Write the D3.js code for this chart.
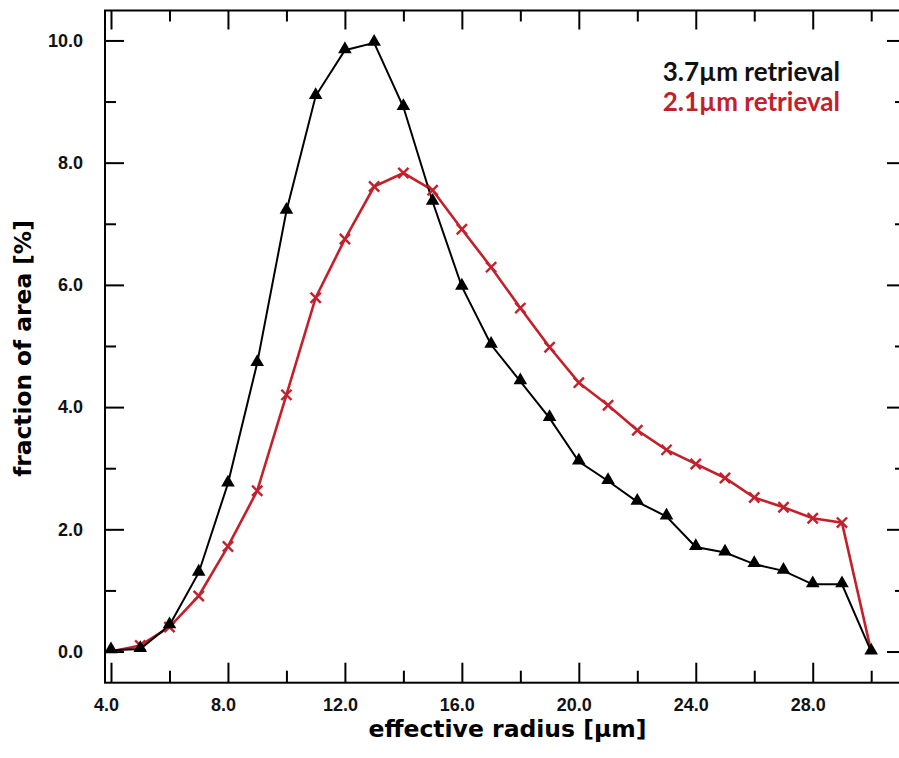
<!DOCTYPE html>
<html>
<head>
<meta charset="utf-8">
<script src="https://cdn.jsdelivr.net/npm/d3@7/dist/d3.min.js"></script>
<style>
  body { margin: 0; background: #fff; }
  svg { display: block; }
</style>
</head>
<body>
<svg id="chart" width="899" height="758"></svg>
<script>
// effective radius [um]
var radius = [4, 5, 6, 7, 8, 9, 10, 11, 12, 13, 14, 15, 16, 17, 18, 19, 20, 21, 22, 23, 24, 25, 26, 27, 28, 29, 30];
// 3.7um retrieval
var ret37 = [0.02, 0.04, 0.43, 1.29, 2.75, 4.72, 7.21, 9.09, 9.84, 9.96, 8.91, 7.36, 5.97, 5.02, 4.42, 3.82, 3.11, 2.79, 2.45, 2.21, 1.71, 1.62, 1.43, 1.32, 1.10, 1.10, 0.0];
// 2.1um retrieval
var ret21 = [0.0, 0.1, 0.4, 0.91, 1.72, 2.63, 4.2, 5.79, 6.75, 7.61, 7.83, 7.55, 6.91, 6.29, 5.62, 4.98, 4.40, 4.03, 3.62, 3.30, 3.07, 2.84, 2.52, 2.36, 2.18, 2.11, 0.0];

var xTicks = [4, 6, 8, 10, 12, 14, 16, 18, 20, 22, 24, 26, 28, 30];
var yTicks = [0, 1, 2, 3, 4, 5, 6, 7, 8, 9, 10];

var red = '#c4202b';

var svg = d3.select('#chart');
var mLeft = 105, mTop = 10.5, mRight = 906, mBottom = 682.7;

var x = d3.scaleLinear().domain([3.795, 31.19]).range([mLeft, mRight]);
var y = d3.scaleLinear().domain([-0.51, 10.49]).range([mBottom, mTop]);

var isMajorX = function (d) { return d % 4 === 0; };
var isMajorY = function (d) { return d % 2 === 0; };
var fmt = d3.format('.1f');

function styleAxis(g) {
    g.select('.domain').remove();
    g.selectAll('.tick line').attr('stroke', '#000').attr('stroke-width', 2);
    g.selectAll('.tick text')
        .style('font-family', '"Liberation Sans", Arial, sans-serif')
        .style('font-weight', 'bold')
        .style('font-size', '18px')
        .attr('fill', '#111');
}

// bottom + top axes
var gb = svg.append('g').attr('transform', 'translate(0,' + mBottom + ')');
gb.call(d3.axisBottom(x).tickValues(xTicks).tickSize(-20).tickSizeOuter(0).tickPadding(16)
    .tickFormat(function (d) { return isMajorX(d) && d < 30 ? fmt(d) : ''; }));
styleAxis(gb);
gb.selectAll('.tick line').attr('y2', function (d) { return isMajorX(d) ? -20 : -12; });
gb.selectAll('.tick text').attr('dx', -5);

var gt = svg.append('g').attr('transform', 'translate(0,' + mTop + ')');
gt.call(d3.axisTop(x).tickValues(xTicks).tickSizeOuter(0).tickFormat(''));
styleAxis(gt);
gt.selectAll('.tick line').attr('y2', function (d) { return isMajorX(d) ? 19 : 11; });

// left + right axes
var gl = svg.append('g').attr('transform', 'translate(' + mLeft + ',0)');
gl.call(d3.axisLeft(y).tickValues(yTicks).tickSize(-19).tickSizeOuter(0).tickPadding(22)
    .tickFormat(function (d) { return isMajorY(d) ? fmt(d) : ''; }));
styleAxis(gl);
gl.selectAll('.tick line').attr('x2', function (d) { return isMajorY(d) ? 19 : 11; });

var gr = svg.append('g').attr('transform', 'translate(' + mRight + ',0)');
gr.call(d3.axisRight(y).tickValues(yTicks).tickSizeOuter(0).tickFormat(''));
styleAxis(gr);
gr.selectAll('.tick line').attr('x2', function (d) { return isMajorY(d) ? -19 : -11; });

// frame
svg.append('rect')
    .attr('x', mLeft).attr('y', mTop)
    .attr('width', mRight - mLeft).attr('height', mBottom - mTop)
    .attr('fill', 'none').attr('stroke', '#000').attr('stroke-width', 2);

// series
var line = d3.line()
    .x(function (d) { return x(d[0]); })
    .y(function (d) { return y(d[1]); });

var data37 = radius.map(function (r, i) { return [r, ret37[i]]; });
var data21 = radius.map(function (r, i) { return [r, ret21[i]]; });

svg.append('path').datum(data21)
    .attr('d', line).attr('fill', 'none')
    .attr('stroke', red).attr('stroke-width', 2.6);
svg.append('path').datum(data37)
    .attr('d', line).attr('fill', 'none')
    .attr('stroke', '#000').attr('stroke-width', 2);

svg.selectAll('.cross').data(data21.slice(1, 26)).enter().append('path')
    .attr('class', 'cross')
    .attr('transform', function (d) { return 'translate(' + x(d[0]) + ',' + y(d[1]) + ')'; })
    .attr('d', d3.symbol(d3.symbolTimes, 70))
    .attr('fill', 'none').attr('stroke', red).attr('stroke-width', 2.4);

svg.selectAll('.tri').data(data37).enter().append('path')
    .attr('class', 'tri')
    .attr('transform', function (d) { return 'translate(' + x(d[0]) + ',' + (y(d[1]) - 1) + ')'; })
    .attr('d', d3.symbol(d3.symbolTriangle, 80))
    .attr('fill', '#000');

// axis titles
svg.append('text')
    .attr('x', 507.5).attr('y', 737)
    .attr('text-anchor', 'middle')
    .style('font-family', '"DejaVu Sans", sans-serif')
    .style('font-weight', 'bold').style('font-size', '23.5px')
    .text('effective radius [µm]');

svg.append('text')
    .attr('transform', 'translate(31,348.5) rotate(-90)')
    .attr('text-anchor', 'middle')
    .style('font-family', '"DejaVu Sans", sans-serif')
    .style('font-weight', 'bold').style('font-size', '23.3px')
    .text('fraction of area [%]');

// legend
var legend = [['3.7µm retrieval', '#111', 81], ['2.1µm retrieval', red, 110.5]];
svg.selectAll('.leg').data(legend).enter().append('text')
    .attr('class', 'leg')
    .attr('x', 840).attr('y', function (d) { return d[2]; })
    .attr('text-anchor', 'end')
    .style('font-family', 'Lato, sans-serif')
    .style('font-weight', 'bold').style('font-size', '26px')
    .attr('fill', function (d) { return d[1]; })
    .text(function (d) { return d[0]; });
</script>
</body>
</html>
